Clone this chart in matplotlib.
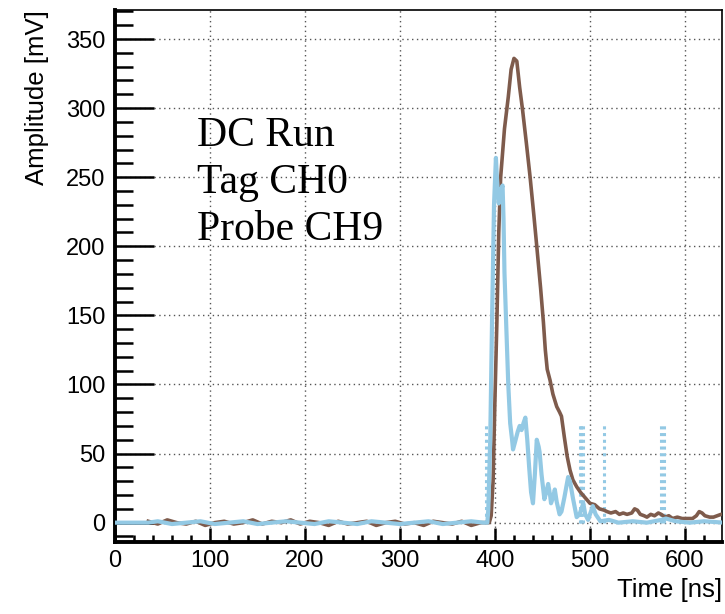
import matplotlib
matplotlib.use("Agg")
import matplotlib.pyplot as plt
from matplotlib.ticker import MultipleLocator

# Tag CH0 (brown) waveform: time [ns], amplitude [mV]
tag_t = [35, 45, 55, 65, 75, 85, 95, 105, 115, 125, 135, 145, 155, 165, 175, 185,
         195, 205, 215, 225, 235, 245, 255, 265, 275, 285, 295, 305, 315, 325, 335,
         345, 355, 365, 375, 385, 394,
         396, 398, 400, 402, 404, 406, 410, 414, 417, 420, 423, 426, 429, 433, 437,
         441, 444, 448, 451, 453, 455, 458, 461, 465, 468, 470, 473, 476, 479, 482,
         486, 490, 495, 500, 505, 510, 515, 518, 522, 527, 531, 535, 539, 544, 547,
         550, 553, 557, 560, 564, 568, 572, 575, 579, 583, 587, 592, 597, 602, 608,
         612, 615, 618, 621, 626, 630, 634, 638, 641]
tag_v = [1, -1, 2, 0, -1, 1, -2, 0, 1, -1, 0, 2, -1, 1, 0, 2,
         -1, 1, 0, -2, 1, -1, 0, 1, -2, 0, 1, -1, 0, -2, 1,
         0, -1, 1, -2, 0, 0,
         5, 30, 90, 145, 210, 250, 285, 308, 328, 336, 334, 315, 299, 275, 250,
         222, 200, 170, 145, 125, 111, 103, 93, 84, 80, 77, 62, 48, 38, 31,
         26, 22, 18, 14, 13, 10, 9, 8, 7, 8, 6, 7, 6, 7, 10,
         9, 6, 5, 4, 6, 5, 7, 6, 4, 5, 3, 4, 3, 3, 3,
         5, 8, 7, 5, 4, 4, 5, 6, 6]

# Probe CH9 (light blue) waveform
probe_t = [0, 35, 45, 60, 75, 90, 105, 120, 135, 150, 165, 180, 195, 210, 225,
           240, 255, 270, 285, 300, 315, 330, 345, 360, 375, 388, 392,
           393, 395, 397, 399, 401, 402, 404, 406, 408, 409, 410, 412, 414, 416,
           418, 419, 421, 424, 426, 428, 430, 432, 434, 436, 438, 440, 442, 444,
           446, 447, 449, 452, 454, 456, 458, 459, 461, 463, 465, 468, 470, 473,
           477, 479, 482, 486, 489, 491, 493, 495, 498, 501, 503, 506, 511,
           520, 530, 545, 560, 575, 580, 590, 605, 620, 641]
probe_v = [0, 0, 1, -1, 0, 1, -1, 0, 1, -1, 0, 1, 0, -1, 1,
           0, -1, 1, 0, -1, 0, 1, -1, 0, 1, 0, 0,
           10, 60, 150, 230, 264, 250, 231, 240, 244, 220, 181, 140, 100, 72,
           60, 53, 58, 66, 70, 67, 72, 76, 60, 40, 22, 14, 35, 60,
           55, 51, 35, 17, 22, 28, 20, 14, 18, 24, 15, 6, 8, 18,
           33, 30, 18, 4, 6, 10, 14, 6, 2, 8, 12, 6, 1,
           2, 0, 1, 0, 2, 3, 1, 0, 1, 0]

# dotted vertical spikes of the probe trace (time [ns], top [mV])
spike_t = [391, 489, 491, 493, 515, 575, 578]
spike_top = [72, 72, 72, 72, 72, 72, 72]

brown = "#7e5b4c"
blue = "#93c9e4"

fig = plt.figure(figsize=(7.25, 6.14), dpi=100)
ax = fig.add_axes([115 / 725, 1 - 542 / 614, 607 / 725, 532 / 614])

ax.vlines(spike_t, 0, spike_top, colors=blue, linestyles=(0, (1, 1.2)), lw=2.2, zorder=2)
ax.plot(tag_t, tag_v, color=brown, lw=2.6, zorder=3)
ax.plot(probe_t, probe_v, color=blue, lw=3.0, zorder=4)

ax.set_xlim(0, 639)
ax.set_ylim(-14, 371)
ax.xaxis.set_major_locator(MultipleLocator(100))
ax.xaxis.set_minor_locator(MultipleLocator(20))
ax.yaxis.set_major_locator(MultipleLocator(50))
ax.yaxis.set_minor_locator(MultipleLocator(10))
ax.grid(True, which="major", color="#555555", linestyle=(0, (1, 2.5)), lw=1.0)

ax.tick_params(axis="both", which="both", direction="in", top=False, right=False,
               labelsize=17, width=1.8)
ax.tick_params(axis="y", which="major", length=28, pad=7)
ax.tick_params(axis="y", which="minor", length=13)
ax.tick_params(axis="x", which="major", length=10, pad=6)
ax.tick_params(axis="x", which="minor", length=5)
for lab in ax.get_xticklabels() + ax.get_yticklabels():
    lab.set_family("Liberation Sans")

ax.spines["left"].set_linewidth(2.8)
ax.spines["bottom"].set_linewidth(2.8)
ax.spines["top"].set_linewidth(1.2)
ax.spines["right"].set_linewidth(1.2)

ax.set_xlabel("Time [ns]", fontsize=18.5, family="Liberation Sans", loc="right", labelpad=4)
ax.set_ylabel("Amplitude [mV]", fontsize=18.5, family="Liberation Sans", loc="top", labelpad=12)

fig.text(197 / 725, 1 - 116 / 614, "DC Run\nTag CH0\nProbe CH9", fontsize=30,
         family="Liberation Serif", va="top", linespacing=1.3)

fig.savefig("out.png", dpi=100)
